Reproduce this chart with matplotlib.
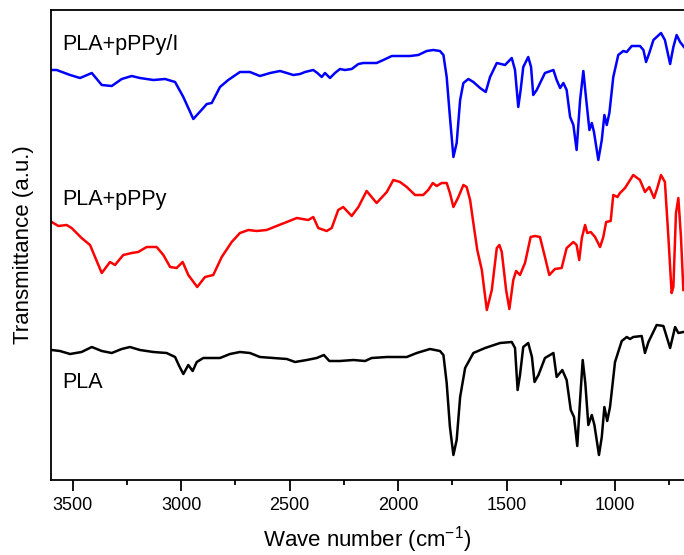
import numpy as np
import matplotlib
matplotlib.use('Agg')
import matplotlib.pyplot as plt
from matplotlib.ticker import MultipleLocator

plt.rcParams['font.family'] = ['Liberation Sans', 'DejaVu Sans']
plt.rcParams['mathtext.default'] = 'regular'

# FTIR spectra, wavenumber (cm^-1) and transmittance (a.u., stacked)
wn_doped = [3597, 3574, 3512, 3466, 3412, 3366, 3320, 3274, 3228, 3190, 3128, 3074,
            3028, 2990, 2944, 2898, 2882, 2859, 2821, 2783, 2729, 2683, 2637, 2590,
            2544, 2513, 2483, 2452, 2429, 2391, 2372, 2352, 2337, 2314, 2291, 2268,
            2245, 2214, 2183, 2160, 2114, 2099, 2068, 2029, 1991, 1945, 1907, 1868,
            1838, 1807, 1791, 1776, 1761, 1745, 1730, 1714, 1699, 1676, 1653, 1622,
            1596, 1576, 1545, 1507, 1476, 1461, 1446, 1435, 1423, 1400, 1387, 1377,
            1361, 1323, 1284, 1269, 1253, 1238, 1223, 1207, 1192, 1177, 1161, 1146,
            1134, 1118, 1107, 1097, 1077, 1061, 1049, 1038, 1026, 1008, 985, 962,
            946, 923, 885, 869, 857, 842, 823, 788, 770, 746, 731, 716, 700, 682]
t_doped = [410, 410, 405, 402, 407, 395, 394, 401, 404, 402, 400, 401,
           398, 383, 361, 372, 376, 377, 393, 400, 408, 408, 404, 407,
           409, 407, 405, 406, 408, 410, 407, 403, 407, 402, 407, 411,
           410, 411, 416, 417, 417, 417, 420, 424, 424, 424, 425, 429,
           430, 429, 425, 403, 363, 323, 337, 380, 397, 401, 398, 392,
           388, 403, 417, 415, 422, 410, 373, 390, 413, 423, 413, 385,
           390, 407, 410, 400, 392, 397, 390, 363, 355, 330, 380, 409,
           383, 350, 357, 348, 320, 340, 365, 355, 367, 403, 425, 429,
           428, 434, 434, 430, 418, 427, 440, 447, 440, 416, 433, 445, 438, 433]

wn_ppy = [3597, 3566, 3528, 3505, 3459, 3420, 3397, 3366, 3328, 3305, 3267, 3228,
          3198, 3159, 3113, 3082, 3051, 3021, 2993, 2967, 2926, 2890, 2852, 2813,
          2767, 2729, 2690, 2652, 2606, 2560, 2513, 2467, 2414, 2391, 2368, 2329,
          2306, 2276, 2253, 2214, 2183, 2145, 2099, 2052, 2022, 1991, 1960, 1922,
          1884, 1861, 1840, 1822, 1799, 1776, 1761, 1745, 1722, 1699, 1684, 1668,
          1653, 1635, 1614, 1591, 1568, 1545, 1533, 1522, 1502, 1487, 1469, 1456,
          1438, 1415, 1389, 1369, 1346, 1323, 1303, 1277, 1246, 1223, 1192, 1177,
          1165, 1153, 1138, 1128, 1112, 1092, 1069, 1054, 1041, 1020, 1008, 989,
          977, 954, 916, 885, 862, 842, 820, 805, 788, 770, 754, 739, 731, 719,
          708, 696, 685]
t_ppy = [258, 254, 255, 252, 242, 235, 223, 207, 218, 215, 225, 227,
         228, 233, 233, 225, 213, 212, 218, 205, 193, 203, 205, 223,
         238, 247, 250, 249, 250, 254, 258, 262, 260, 263, 252, 249,
         252, 270, 273, 264, 273, 289, 277, 288, 300, 298, 293, 285,
         285, 290, 297, 294, 297, 297, 287, 273, 283, 295, 293, 280,
         257, 230, 210, 170, 190, 232, 235, 228, 190, 171, 200, 209,
         205, 217, 243, 244, 243, 223, 205, 211, 212, 232, 238, 235,
         220, 242, 255, 247, 248, 243, 233, 243, 258, 259, 285, 283,
         287, 292, 305, 300, 288, 293, 282, 292, 305, 298, 243, 187, 193, 267,
         282, 243, 190]

wn_pla = [3597, 3559, 3512, 3459, 3412, 3366, 3320, 3274, 3236, 3190, 3128, 3067,
          3028, 3009, 2990, 2967, 2947, 2928, 2898, 2821, 2775, 2729, 2683, 2637,
          2575, 2513, 2475, 2421, 2375, 2342, 2317, 2268, 2206, 2152, 2122, 2052,
          1991, 1960, 1914, 1853, 1807, 1791, 1776, 1761, 1745, 1730, 1714, 1691,
          1653, 1599, 1530, 1476, 1461, 1449, 1438, 1423, 1400, 1383, 1371, 1353,
          1323, 1284, 1269, 1243, 1223, 1204, 1189, 1174, 1161, 1149, 1137, 1123,
          1107, 1095, 1074, 1061, 1049, 1036, 1023, 1000, 969, 946, 931, 916,
          877, 862, 846, 808, 777, 746, 723, 708, 685]
t_pla = [130, 129, 126, 128, 133, 129, 127, 131, 133, 130, 128, 127,
         123, 114, 106, 115, 109, 118, 122, 122, 126, 128, 127, 123,
         122, 121, 118, 120, 122, 125, 119, 119, 120, 119, 122, 123,
         123, 123, 127, 131, 129, 125, 97, 53, 25, 40, 83, 112,
         127, 132, 137, 138, 132, 90, 105, 133, 137, 123, 98, 105,
         122, 127, 103, 110, 100, 70, 63, 34, 80, 120, 97, 55,
         65, 55, 25, 43, 73, 59, 73, 118, 139, 143, 141, 143,
         144, 127, 138, 155, 154, 132, 153, 147, 148]

labels = ['PLA+pPPy/I', 'PLA+pPPy', 'PLA']
label_wn = 3549
label_t = [430, 275, 92]

fig = plt.figure(figsize=(6.84, 5.55), dpi=100)
ax = fig.add_axes([51 / 684, 75 / 555, 633 / 684, 470 / 555])

ax.plot(wn_doped, t_doped, color='#0000ff', lw=1.8)
ax.plot(wn_ppy, t_ppy, color='#ff0000', lw=1.8)
ax.plot(wn_pla, t_pla, color='black', lw=1.8)

for name, yt in zip(labels, label_t):
    ax.text(label_wn, yt, name, fontsize=15.5, ha='left', va='baseline')

ax.set_xlim(3600, 682)
ax.set_ylim(0, 470)
ax.xaxis.set_major_locator(MultipleLocator(500))
ax.xaxis.set_minor_locator(MultipleLocator(250))
ax.tick_params(axis='x', which='major', direction='out', length=8, width=1.3,
               labelsize=13, pad=4)
ax.tick_params(axis='x', which='minor', direction='out', length=3.8, width=1.3)
ax.set_yticks([])

for side in ['left', 'bottom', 'top']:
    ax.spines[side].set_linewidth(1.3)
ax.spines['right'].set_visible(False)

ax.set_xlabel('Wave number (cm$^{-1}$)', fontsize=16)
ax.set_ylabel('Transmittance (a.u.)', fontsize=16)
ax.xaxis.set_label_coords(0.5, -0.093)
ax.yaxis.set_label_coords(-0.027, 0.5)

fig.savefig('out.png', dpi=100)
